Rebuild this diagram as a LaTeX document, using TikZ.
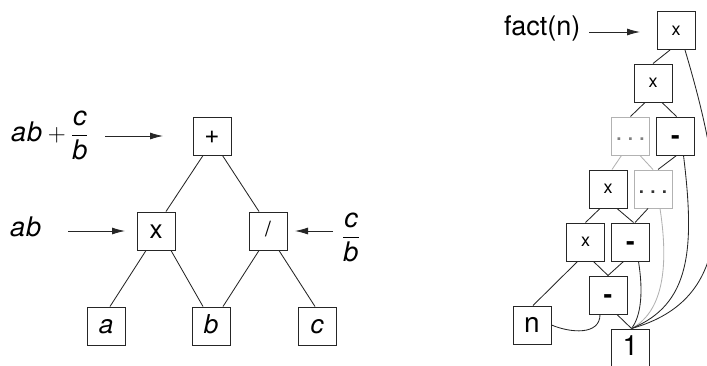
\documentclass[tikz,border=0pt]{standalone}
\usepackage{amsmath}
\usepackage{fontspec}
\setmainfont{TeX Gyre Heros}
\usetikzlibrary{arrows.meta}
\definecolor{boxc}{gray}{0.15}
\definecolor{linec}{gray}{0.15}
\definecolor{grayc}{gray}{0.7}
\tikzset{
  box/.style={draw=boxc, line width=1pt, minimum size=38pt, inner sep=0pt,
    font=\fontsize{26}{30}\selectfont, text height=14pt, text depth=0pt},
  sbox/.style={box, font=\fontsize{18}{21}\selectfont, text height=9.5pt},
  bigbox/.style={box, font=\fontsize{28}{32}\selectfont, text height=15pt},
  mbox/.style={box, font=\fontsize{26}{30}\selectfont\bfseries, text height=16pt},
  gbox/.style={box, draw=grayc, text height=9pt},
  edge/.style={line width=0.85pt, draw=linec},
  gedge/.style={edge, draw=grayc},
  arr/.style={line width=0.85pt, draw=linec, -{Latex[length=13pt,width=7pt]}},
  lab/.style={inner sep=0pt, font=\fontsize{27}{31}\selectfont},
}
\begin{document}
\begin{tikzpicture}[x=1pt,y=-1pt]
\useasboundingbox (0,0) rectangle (707,365);
% ---------- left tree ----------
\node[box] (plus) at (212,136) {+};
\node[box] (mul) at (156,231) {x};
\node[box, font=\fontsize{21}{24}\selectfont, text height=11pt] (div) at (268,231) {/};
\node[box] (na) at (106,326) {\itshape a};
\node[box] (nb) at (211,326) {\itshape b};
\node[box] (nc) at (317,326) {\itshape c};

\draw[edge] ([xshift=-9pt]plus.south) -- ([xshift=10pt]mul.north);
\draw[edge] ([xshift=10.5pt]plus.south) -- ([xshift=-9pt]div.north);
\draw[edge] ([xshift=-10pt]mul.south) -- ([xshift=4pt]na.north);
\draw[edge] ([xshift=15pt]mul.south) -- ([xshift=-8pt]nb.north);
\draw[edge] ([xshift=-9pt]div.south) -- ([xshift=12pt]nb.north);
\draw[edge] ([xshift=11pt]div.south) -- ([xshift=-2pt]nc.north);

\node[lab, anchor=west] (l1) at (11,135) {$\text{\itshape a\kern1pt b}+\dfrac{\text{\itshape c}}{\text{\itshape b}}$};
\node[lab, anchor=base west] (l2) at (10,236) {\itshape a\kern1pt b};
\node[lab] (l3) at (351,237) {$\dfrac{\text{\itshape c}}{\text{\itshape b}}$};

\coordinate (a1s) at (105,136); \coordinate (a1e) at (163,136);
\coordinate (a2s) at (68,231);  \coordinate (a2e) at (125,231);
\coordinate (a3s) at (333,231); \coordinate (a3e) at (295,231);
\draw[arr] (a1s) -- (a1e);
\draw[arr] (a2s) -- (a2e);
\draw[arr] (a3s) -- (a3e);

% ---------- right DAG ----------
\node[sbox] (X1) at (676,30.5) {x};
\node[sbox] (X2) at (653,83) {x};
\node[gbox, text=black!50] (D1) at (630.5,136) {.\,.\,.};
\node[mbox] (M1) at (675.5,136) {-};
\node[sbox] (X3) at (608,189) {x};
\node[gbox, text=black!80] (D2) at (653,189) {.\,.\,.};
\node[sbox] (X4) at (585.5,242) {x};
\node[mbox] (M2) at (630.5,242) {-};
\node[mbox] (M3) at (608,295) {-};
\node[bigbox] (N) at (532,325) {n};
\node[bigbox] (One) at (630.5,348) {1};

\node[lab, anchor=base west] (fact) at (504,35.5) {fact(n)};
\coordinate (a4s) at (589,32); \coordinate (a4e) at (640,32);
\draw[arr] (a4s) -- (a4e);

\draw[edge] ([xshift=-6pt]X1.south) -- (X2.north);
\draw[edge] ([xshift=-8pt]X2.south) -- (D1.north);
\draw[edge] ([xshift=9pt]X2.south) -- ([xshift=1pt]M1.north);
\draw[gedge] ([xshift=-9pt]D1.south) -- ([xshift=4pt]X3.north);
\draw[gedge] ([xshift=9.5pt]D1.south) -- (D2.north);
\draw[edge] ([xshift=1pt]M1.south) -- ([xshift=5pt]D2.north);
\draw[edge] ([xshift=-8pt]X3.south) -- (X4.north);
\draw[edge] ([xshift=9pt]X3.south) -- ([xshift=3pt]M2.north);
\draw[edge] ([xshift=-5pt]D2.south) -- ([xshift=4.5pt]M2.north);
\draw[edge] ([xshift=-8pt]X4.south) -- ([xshift=1pt]N.north);
\draw[edge] ([xshift=8pt]X4.south) -- (M3.north);
\draw[edge] ([xshift=-7pt]M2.south) -- (M3.north);
\draw[edge] ([xshift=9pt]M3.south) -- ([xshift=1pt]One.north);
\draw[edge] ([xshift=-8pt]M3.south) .. controls +(0,21) and +(19,8) .. (N.east);
\draw[edge] ([xshift=8pt]M2.south) .. controls +(4.7,29) and +(10,-13) .. ([xshift=1pt]One.north);
\draw[gedge] ([xshift=7pt]D2.south) .. controls +(8,52) and +(34,-18) .. ([xshift=1pt]One.north);
\draw[edge] ([xshift=8pt]M1.south) .. controls +(11.7,95) and +(58.5,-24) .. ([xshift=1pt]One.north);
\draw[edge] ([xshift=9pt]X1.south) .. controls +(45,151) and +(103.5,-29) .. ([xshift=1pt]One.north);
\end{tikzpicture}
\end{document}
